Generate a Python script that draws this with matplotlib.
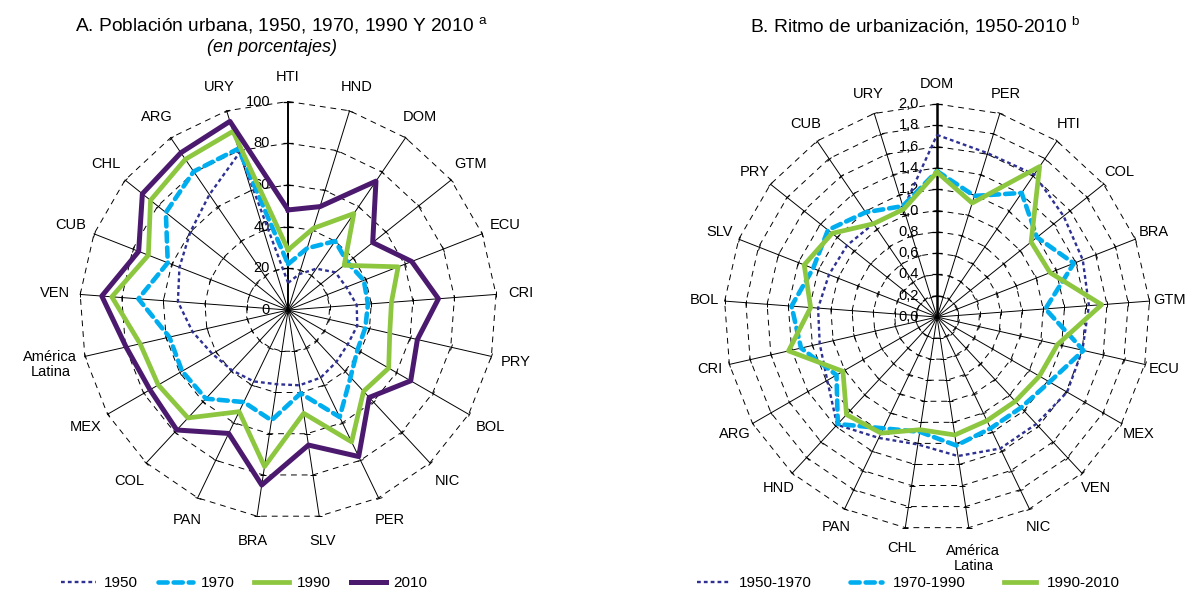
import numpy as np
import matplotlib
matplotlib.use('Agg')
import matplotlib.pyplot as plt
from matplotlib.lines import Line2D
from matplotlib.markers import MarkerStyle
from matplotlib.transforms import Affine2D

plt.rcParams['font.family'] = ['Liberation Sans', 'DejaVu Sans']
plt.rcParams['mathtext.fontset'] = 'custom'
plt.rcParams['mathtext.rm'] = 'Liberation Sans'

# --- Panel A: urban population (%) ---
cats_a = ['HTI', 'HND', 'DOM', 'GTM', 'ECU', 'CRI', 'PRY', 'BOL', 'NIC', 'PER', 'SLV',
          'BRA', 'PAN', 'COL', 'MEX', 'América\nLatina', 'VEN', 'CUB', 'CHL', 'ARG', 'URY']
u1950 = [13, 18, 24, 29, 30, 33, 34, 33, 34, 36, 36.5, 36, 38, 39.5, 42, 47, 53, 56, 60, 67, 79]
u1970 = [22, 31, 40, 36.5, 39, 38.4, 38, 38.4, 44, 57, 40.4, 53.5, 49, 58, 58.7, 58.4, 72, 62, 75, 80.4, 81]
u1990 = [28.8, 41, 56, 34.4, 56.7, 49.7, 50, 55.7, 53.2, 70.2, 50.1, 75.9, 54.1, 70.6, 71.9, 72.8,
         84.8, 72, 84.4, 87.5, 89.7]
u2010 = [48, 51.9, 74.8, 51.9, 63.7, 72.3, 63.6, 67.9, 57.2, 78, 65.5, 84.9, 65.7, 78.5, 76.5, 79.7,
         89.6, 77, 89.4, 91.3, 94.7]
years_a = ['1950', '1970', '1990', '2010']

# --- Panel B: pace of urbanization ---
cats_b = ['DOM', 'PER', 'HTI', 'COL', 'BRA', 'GTM', 'ECU', 'MEX', 'VEN', 'NIC', 'América\nLatina',
          'CHL', 'PAN', 'HND', 'ARG', 'CRI', 'BOL', 'SLV', 'PRY', 'CUB', 'URY']
r5070 = [1.71, 1.61, 1.62, 1.52, 1.47, 1.43, 1.40, 1.41, 1.37, 1.37, 1.32, 1.21, 1.26, 1.38, 1.19,
         1.13, 1.12, 1.09, 1.08, 1.06, 1.07]
r7090 = [1.37, 1.19, 1.41, 1.20, 1.38, 1.02, 1.41, 1.22, 1.16, 1.16, 1.22, 1.09, 1.16, 1.37, 1.09,
         1.31, 1.37, 1.25, 1.31, 1.19, 1.09]
r9010 = [1.36, 1.12, 1.71, 1.13, 1.14, 1.55, 1.16, 1.11, 1.08, 1.08, 1.12, 1.07, 1.21, 1.25, 1.02,
         1.43, 1.19, 1.34, 1.26, 1.06, 1.06]
periods_b = ['1950-1970', '1970-1990', '1990-2010']

navy, sky, green, purple = '#2E3192', '#00AEEF', '#8DC63F', '#4B1A6E'
styles = {
    'dot': dict(color=navy, lw=1.7, ls=(0, (1.6, 1.3))),
    'dash': dict(color=sky, lw=3.3, ls=(0, (2.0, 1.3)), dash_capstyle='round'),
    'green': dict(color=green, lw=3.4, ls='-'),
    'purple': dict(color=purple, lw=3.6, ls='-'),
}


def radar(ax, cats, rmax, step, fmt, lab_r, axis_lw):
    n = len(cats)
    th = np.arange(n) * 2 * np.pi / n
    ax.set_theta_zero_location('N')
    ax.set_theta_direction(-1)
    ax.set_ylim(0, rmax)
    ax.axis('off')
    rings = np.arange(step, rmax + step / 2, step)
    thc = np.append(th, th[0])
    for r in rings:
        ax.plot(thc, [r] * (n + 1), color='k', lw=0.7, ls=(0, (6, 5)), clip_on=False, zorder=1)
    for i, t in enumerate(th):
        ax.plot([t, t], [0, rmax], color='k', lw=axis_lw if i == 0 else 0.7, clip_on=False, zorder=1)
        mk = MarkerStyle('_', transform=Affine2D().rotate_deg(-np.degrees(t)))
        ax.plot([t] * len(rings), rings, ls='none', marker=mk, ms=7 if i == 0 else 4,
                mec='k', mew=0.9 if i == 0 else 0.7, clip_on=False, zorder=1)
    for r in np.append(0, rings):
        ax.annotate(fmt(r), xy=(0, r), xytext=(-13, 0), textcoords='offset points',
                    ha='right', va='center', fontsize=10.5, zorder=3)
    for i, (t, c) in enumerate(zip(th, cats)):
        rr = lab_r + (0.05 * rmax if '\n' in c else 0)
        ax.text(t, rr, c, ha='center', va='center', fontsize=10.5, linespacing=1.1)
    return thc


def closed(v):
    return list(v) + [v[0]]


fig = plt.figure(figsize=(11.92, 5.93), dpi=100)

# Panel A
axa = fig.add_axes([0.0667, 0.1256, 0.35, 0.7032], projection='polar')
tha = radar(axa, cats_a, 100, 20, lambda r: f'{r:.0f}', 112, 1.4)
axa.plot(tha, closed(u1950), **styles['dot'], zorder=4)
axa.plot(tha, closed(u1970), **styles['dash'], zorder=5)
axa.plot(tha, closed(u1990), **styles['green'], zorder=6)
axa.plot(tha, closed(u2010), **styles['purple'], zorder=7)

# Panel B
axb = fig.add_axes([0.6074, 0.1062, 0.3574, 0.7184], projection='polar')
thb = radar(axb, cats_b, 2.0, 0.2, lambda r: f'{r:.1f}'.replace('.', ','), 2.19, 1.8)
axb.plot(thb, closed(r5070), **styles['dot'], zorder=4)
axb.plot(thb, closed(r7090), **styles['dash'], zorder=5)
axb.plot(thb, closed(r9010), **styles['green'], zorder=6)

# titles
fig.text(0.236, 0.957, r'A. Población urbana, 1950, 1970, 1990 Y 2010 $^{\mathrm{a}}$',
         ha='center', va='center', fontsize=13.8)
fig.text(0.228, 0.920, '(en porcentajes)', ha='center', va='center', fontsize=13, style='italic')
fig.text(0.768, 0.957, r'B. Ritmo de urbanización, 1950-2010 $^{\mathrm{b}}$',
         ha='center', va='center', fontsize=13.8)

# legends
ha_ = [Line2D([], [], **styles[k]) for k in ['dot', 'dash', 'green', 'purple']]
fig.legend(ha_, years_a, loc='center', bbox_to_anchor=(0.205, 0.017), ncol=4, frameon=False,
           fontsize=11, handlelength=2.3, columnspacing=1.3, handletextpad=0.5)
hb = [Line2D([], [], **styles[k]) for k in ['dot', 'dash', 'green']]
fig.legend(hb, periods_b, loc='center', bbox_to_anchor=(0.762, 0.017), ncol=3, frameon=False,
           fontsize=11, handlelength=2.1, columnspacing=2.5, handletextpad=0.7)

fig.savefig('out.png', dpi=100)
